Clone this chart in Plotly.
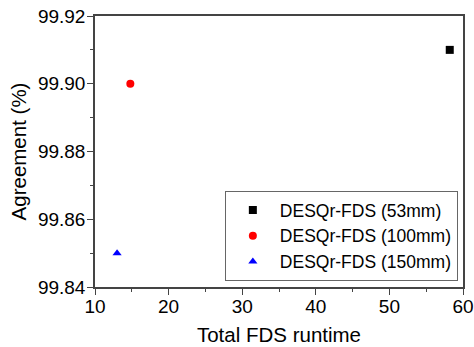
import plotly.graph_objects as go

names = ["DESQr-FDS (53mm)", "DESQr-FDS (100mm)", "DESQr-FDS (150mm)"]
runtime = [58.2, 14.8, 13.0]
agreement = [99.910, 99.900, 99.850]
colors = ["black", "red", "blue"]
symbols = ["square", "circle", "triangle-up"]
x_ticks = [10, 20, 30, 40, 50, 60]
y_ticks = [99.84, 99.86, 99.88, 99.90, 99.92]

fig = go.Figure()
for n, x, y, c, s in zip(names, runtime, agreement, colors, symbols):
    fig.add_trace(go.Scatter(x=[x], y=[y], mode="markers", name=n,
                             marker=dict(color=c, symbol=s, size=8)))

FONT = "Liberation Sans"
axis_common = dict(showline=True, linecolor="#444", linewidth=1.5, mirror=True,
                   ticks="outside", ticklen=6, tickcolor="#444", showgrid=False,
                   zeroline=False, automargin=False,
                   tickfont=dict(family=FONT, size=19, color="black"))
fig.update_xaxes(range=[10, 60], tickvals=x_ticks, ticktext=[str(v) for v in x_ticks],
                 minor=dict(ticks="outside", ticklen=3, dtick=5, tickcolor="#444"),
                 ticklabelstandoff=-5,
                 title=dict(text="Total FDS runtime", font=dict(family=FONT, size=20.5, color="black"), standoff=12),
                 **axis_common)
fig.update_yaxes(range=[99.84, 99.92], tickvals=y_ticks, ticktext=[f"{v:.2f}" for v in y_ticks],
                 minor=dict(ticks="outside", ticklen=3, dtick=0.01, tickcolor="#444"),
                 ticklabelstandoff=-2,
                 title=dict(text="Agreement (%)", font=dict(family=FONT, size=20.5, color="black"), standoff=6),
                 **axis_common)
fig.update_layout(
    width=474, height=347, plot_bgcolor="white", paper_bgcolor="white",
    margin=dict(l=95, r=11, t=16, b=60),
    legend=dict(x=0.986, y=0.022, xanchor="right", yanchor="bottom",
                bordercolor="#666", borderwidth=1, bgcolor="white",
                font=dict(family=FONT, size=17.5, color="black"),
                itemwidth=44, tracegroupgap=0),
)
fig.write_html("out.html")
